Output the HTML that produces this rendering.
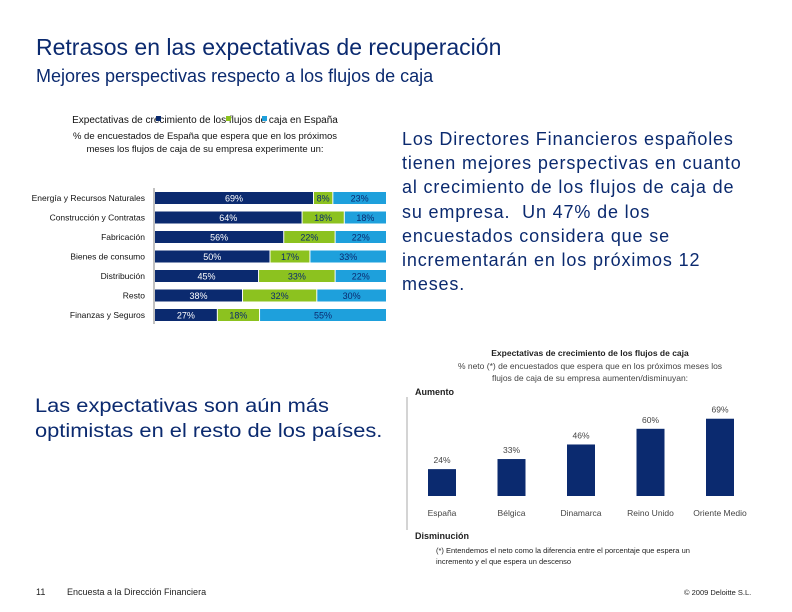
<!DOCTYPE html>
<html><head><meta charset="utf-8">
<style>
body{margin:0;width:792px;height:612px;background:#fff;font-family:"Liberation Sans",sans-serif;position:relative;overflow:hidden}
.a{position:absolute;white-space:nowrap}
</style></head><body>
<div class="a" style="left:36px;top:34px;font-size:23px;color:#0b2a6f">Retrasos en las expectativas de recuperación</div>
<div class="a" style="left:36px;top:66px;font-size:18px;color:#0b2a6f">Mejores perspectivas respecto a los flujos de caja</div>

<svg class="a" style="left:0;top:0" width="792" height="612">
<g id="c1"></g>
<g id="c2"></g>
</svg>

<div class="a" style="left:402px;top:127px;font-size:18px;letter-spacing:0.85px;line-height:24.2px;color:#0b2a6f">Los Directores Financieros españoles<br>tienen mejores perspectivas en cuanto<br>al crecimiento de los flujos de caja de<br>su empresa.&nbsp; Un 47% de los<br>encuestados considera que se<br>incrementarán en los próximos 12<br>meses.</div>
<div class="a" style="left:35px;top:394px;font-size:19px;line-height:25px;color:#0b2a6f;transform:scaleX(1.15);transform-origin:0 0">Las expectativas son aún más<br>optimistas en el resto de los países.</div>

<div class="a" style="left:436px;top:545px;font-size:7.5px;line-height:11px;color:#222">(*) Entendemos el neto como la diferencia entre el porcentaje que espera un<br>incremento y el que espera un descenso</div>
<div class="a" style="left:36px;top:587px;font-size:9px;color:#222">11</div>
<div class="a" style="left:67px;top:587px;font-size:9px;color:#222">Encuesta a la Dirección Financiera</div>
<div class="a" style="left:684px;top:588px;font-size:7.5px;color:#222">© 2009 Deloitte S.L.</div>

<script>
const categories1=["Energía y Recursos Naturales","Construcción y Contratas","Fabricación","Bienes de consumo","Distribución","Resto","Finanzas y Seguros"];
const aumento=[69,64,56,50,45,38,27];
const igual=[8,18,22,17,33,32,18];
const disminucion=[23,18,22,33,22,30,55];
const countries=["España","Bélgica","Dinamarca","Reino Unido","Oriente Medio"];
const netValues=[24,33,46,60,69];

const NS="http://www.w3.org/2000/svg";
function mk(p,t,at,txt){const e=document.createElementNS(NS,t);for(const k in at)e.setAttribute(k,at[k]);if(txt!=null)e.textContent=txt;p.appendChild(e);return e;}
const c1=document.getElementById('c1');
const X0=155,W=229,Y0=198,DY=19.5,BH=12;
const xs=v=>v/100*W;
let t=mk(c1,'text',{x:205,y:123,'font-size':10,'text-anchor':'middle',fill:'#111'},'Expectativas de crecimiento de los flujos de caja en España');

[['#0b2a6f',156],['#8cc21f',226],['#1ea0dc',262]].forEach(([c,x],i)=>{const r=mk(c1,'rect',{x:x,y:116,width:5,height:5,fill:c});});
mk(c1,'text',{x:205,y:139,'font-size':9.5,'text-anchor':'middle',fill:'#111'},'% de encuestados de España que espera que en los próximos');
mk(c1,'text',{x:205,y:152,'font-size':9.5,'text-anchor':'middle',fill:'#111'},'meses los flujos de caja de su empresa experimente un:');
let ax=mk(c1,'line',{x1:154,y1:188,x2:154,y2:324,stroke:'#999','stroke-width':1.2});

const cols=['#0b2a6f','#8cc21f','#1ea0dc'],tc=['#fff','#0b2a6f','#0b2a6f'];
categories1.forEach((c,i)=>{
 const y=Y0+i*DY;
 const lb=mk(c1,'text',{x:145,y:y+3,'font-size':8.5,'text-anchor':'end',fill:'#111'},c);
 
 let x=X0;
 [aumento[i],igual[i],disminucion[i]].forEach((v,k)=>{
  const r=mk(c1,'rect',{x:x,y:y-BH/2,width:xs(v),height:BH,fill:cols[k]});
  
  const tx=mk(c1,'text',{x:x+xs(v)/2,y:y+3.5,'font-size':9,'text-anchor':'middle',fill:tc[k]},v+'%');
  
  x+=xs(v)+1;
 });
});
const c2=document.getElementById('c2');
const BX0=442,BDX=69.5,BW=28,BY=496,KY=1.12;
mk(c2,'text',{x:590,y:356,'font-size':8.5,'font-weight':'bold','text-anchor':'middle',fill:'#222'},'Expectativas de crecimiento de los flujos de caja');
mk(c2,'text',{x:590,y:369,'font-size':8.5,'text-anchor':'middle',fill:'#444'},'% neto (*) de encuestados que espera que en los próximos meses los');
mk(c2,'text',{x:590,y:381,'font-size':8.5,'text-anchor':'middle',fill:'#444'},'flujos de caja de su empresa aumenten/disminuyan:');
mk(c2,'text',{x:415,y:395,'font-size':9,'font-weight':'bold',fill:'#222'},'Aumento');
mk(c2,'text',{x:415,y:539,'font-size':9,'font-weight':'bold',fill:'#222'},'Disminución');
let ax2=mk(c2,'line',{x1:407,y1:397,x2:407,y2:530,stroke:'#aaa','stroke-width':1});

countries.forEach((c,i)=>{
 const cx=BX0+i*BDX,h=netValues[i]*KY;
 const r=mk(c2,'rect',{x:cx-BW/2,y:BY-h,width:BW,height:h,fill:'#0b2a6f'});
 
 const v=mk(c2,'text',{x:cx,y:BY-h-6,'font-size':8.5,'text-anchor':'middle',fill:'#444'},netValues[i]+'%');
 
 const l=mk(c2,'text',{x:cx,y:516,'font-size':8.5,'text-anchor':'middle',fill:'#444'},c);
 
});
</script>
</body></html>
